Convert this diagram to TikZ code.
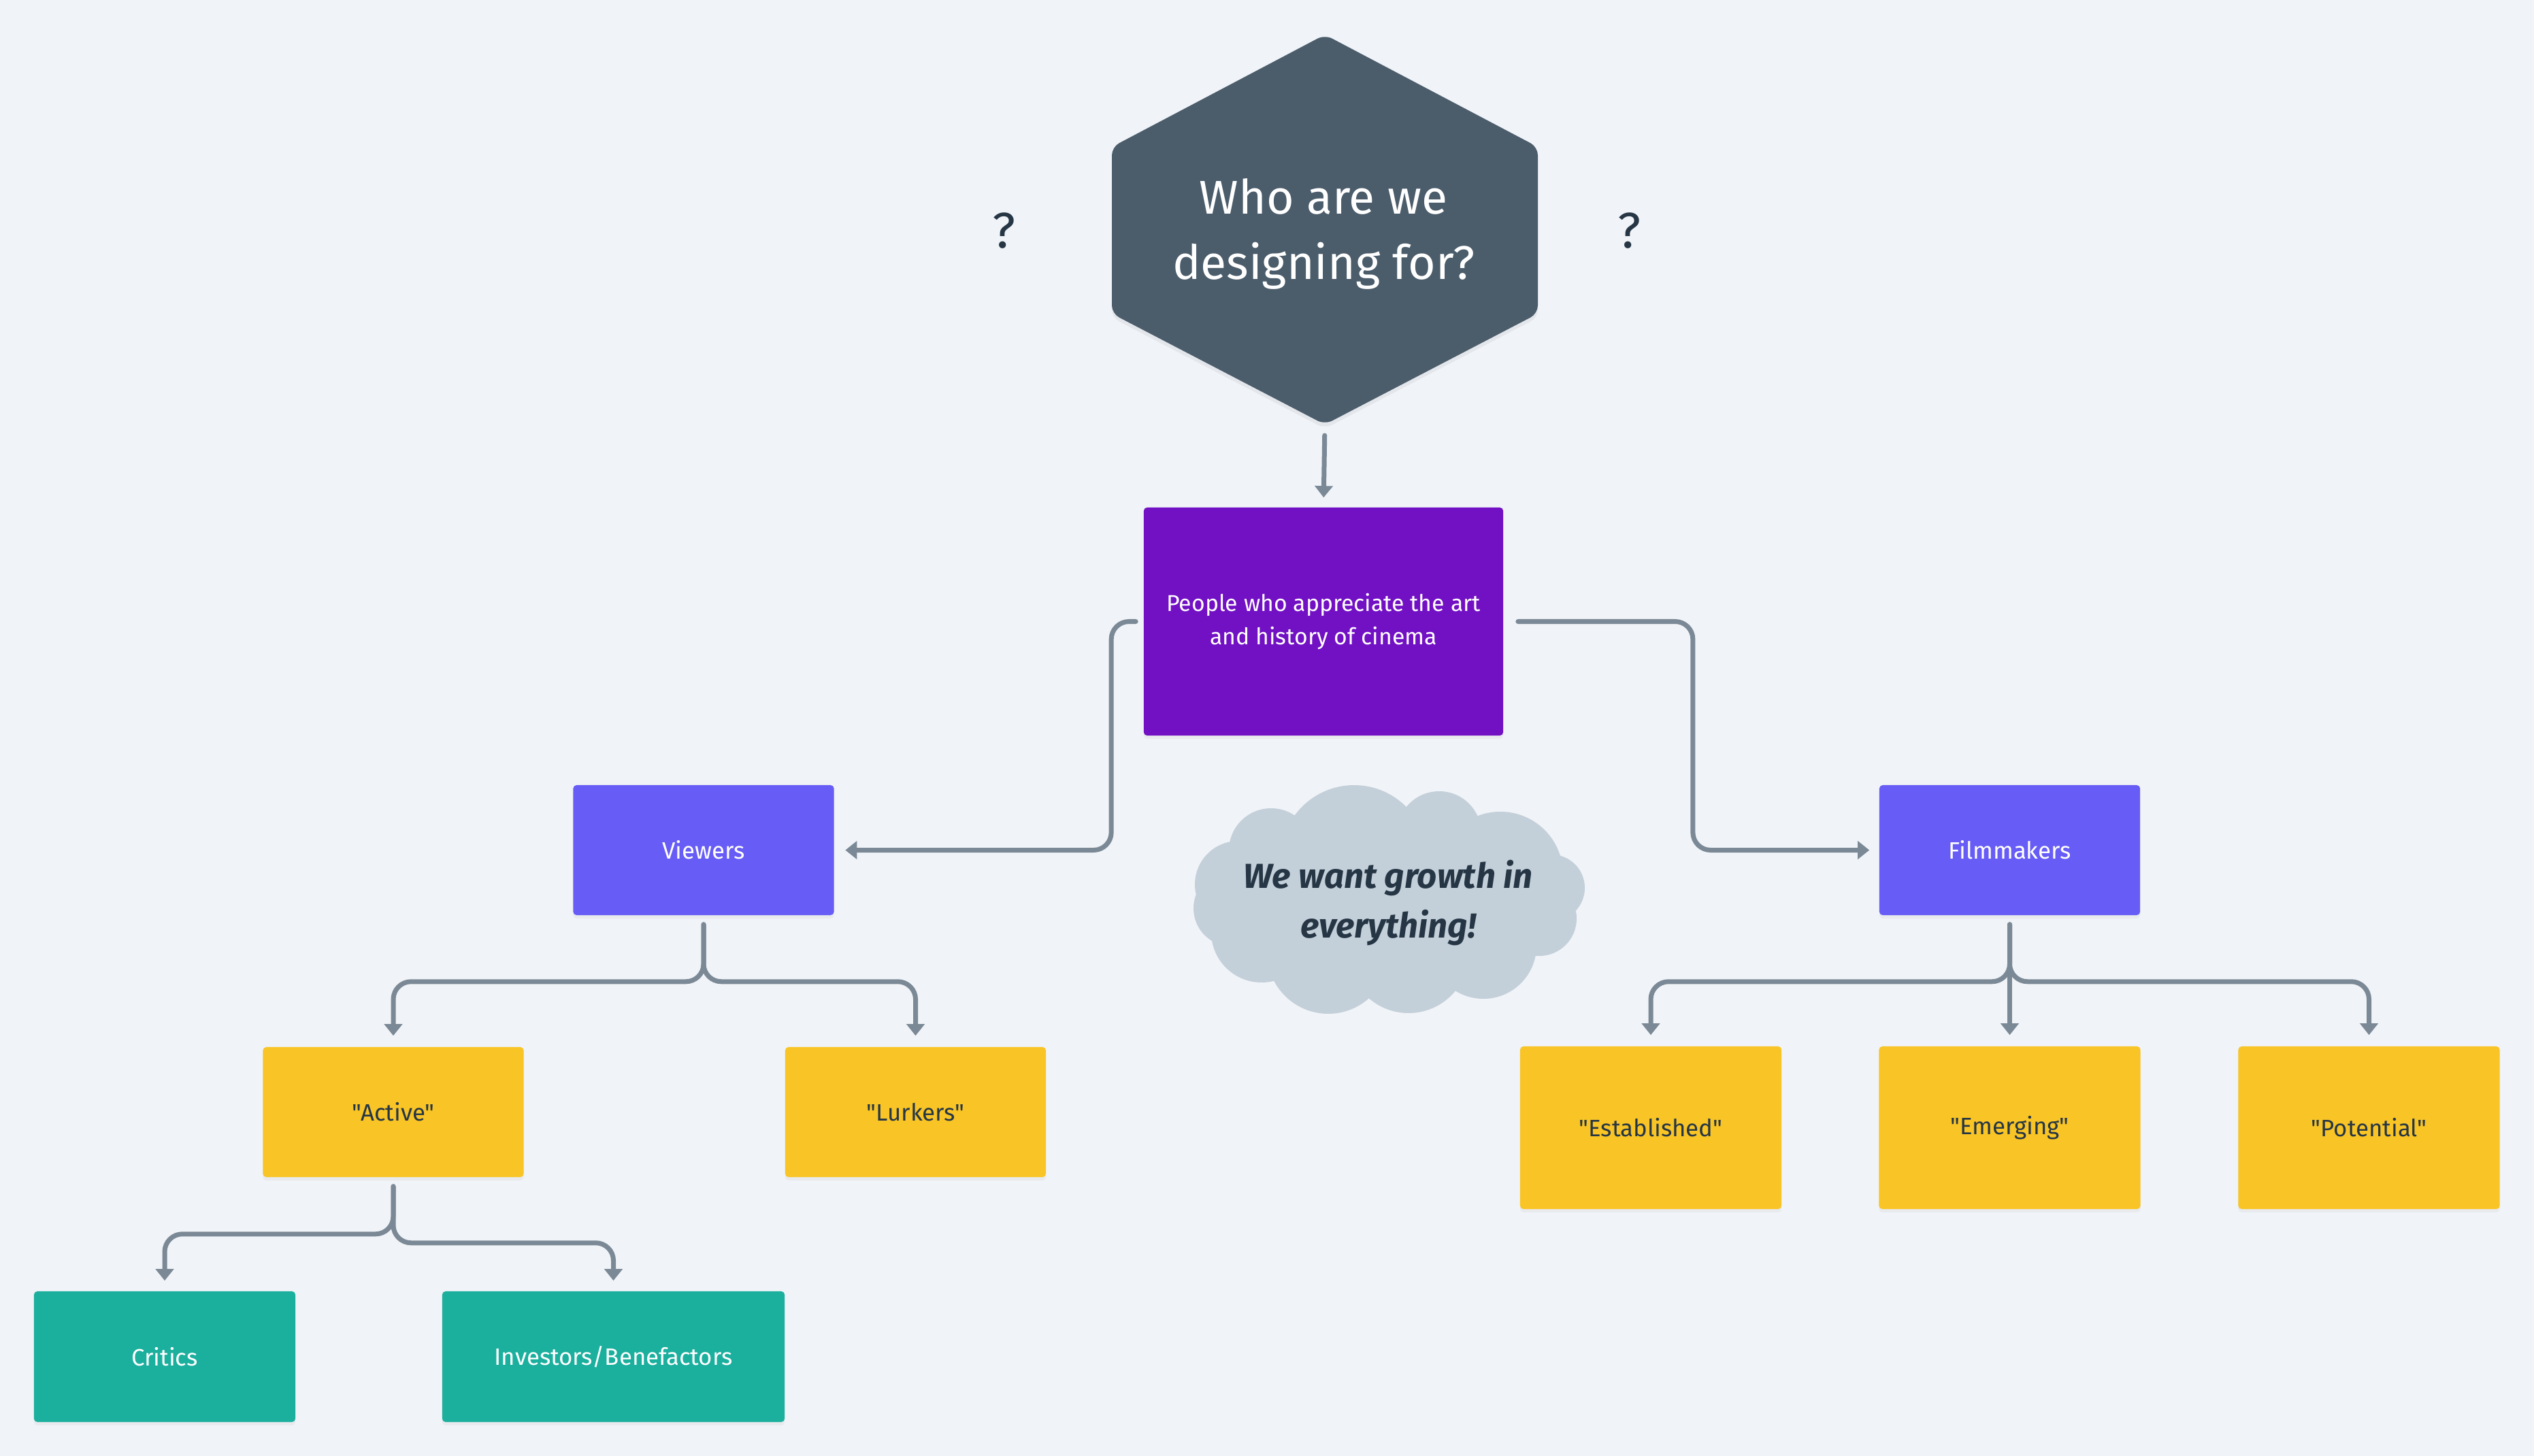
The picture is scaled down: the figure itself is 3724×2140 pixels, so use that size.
\documentclass[tikz,border=0pt]{standalone}
\usepackage{fontspec}
\setmainfont{Fira Sans}[Ligatures=TeXOff]
\usetikzlibrary{arrows.meta,calc,shadows}
\definecolor{bgc}{HTML}{F0F3F7}
\definecolor{hexc}{HTML}{4B5C6B}
\definecolor{purplec}{HTML}{7210C4}
\definecolor{violetc}{HTML}{675CF5}
\definecolor{yellowc}{HTML}{F8C426}
\definecolor{tealc}{HTML}{1BAF9E}
\definecolor{cloudc}{HTML}{C3CFD9}
\definecolor{connc}{HTML}{7B8996}
\definecolor{darkc}{HTML}{263645}
\begin{document}
\begin{tikzpicture}[x=0.01cm,y=-0.01cm,
  box/.style={rectangle, rounded corners=0.05cm, inner sep=0pt, align=center,
    drop shadow={opacity=0.07, shadow xshift=0pt, shadow yshift=-0.05cm}},
  small/.style={minimum width=3.83cm, minimum height=1.91cm},
  tall/.style={minimum width=3.84cm, minimum height=2.39cm},
  lbl/.style={font=\fontsize{9.9}{13.7}\selectfont},
  conn/.style={draw=connc, line width=0.07cm, line cap=round, rounded corners=0.26cm,
    -{Triangle[length=0.17cm,width=0.26cm]}}
]
\fill[bgc] (0,0) rectangle (3724,2140);
\useasboundingbox (0,0) rectangle (3724,2140);

% hexagon
\fill[black, opacity=0.05, rounded corners=0.12cm, shift={(0,6)}] (1947,51) -- (2260,216) -- (2260,461) -- (1947,624) -- (1634,461) -- (1634,216) -- cycle;
\fill[hexc, rounded corners=0.12cm] (1947,51) -- (2260,216) -- (2260,461) -- (1947,624) -- (1634,461) -- (1634,216) -- cycle;
\node[text=white, align=center, font=\fontsize{19.8}{27.3}\selectfont] (hex) at (1945,344) {Who are we\\designing for?};
\coordinate (hexbot) at (1947,624);

\node[text=darkc, font=\fontsize{21}{25}\selectfont] (q1) at (1475,339) {?};
\node[text=darkc, font=\fontsize{21}{25}\selectfont] (q2) at (2394,339) {?};

% cloud
\fill[cloudc]
  (1990,1262) circle[radius=108]
  (1868,1250) circle[radius=62]
  (2115,1225) circle[radius=62]
  (2205,1285) circle[radius=92]
  (2280,1305) circle[radius=49]
  (2262,1350) circle[radius=55]
  (2180,1390) circle[radius=78]
  (2070,1400) circle[radius=89]
  (1952,1400) circle[radius=90]
  (1854,1370) circle[radius=74]
  (1810,1335) circle[radius=56]
  (1820,1300) circle[radius=64]
  (2040,1322) ellipse[x radius=240, y radius=130];
\node[text=darkc, align=center, font=\bfseries\itshape\fontsize{14.5}{21}\selectfont] (cloud) at (2040,1327) {We want growth in\\everything!};

% boxes
\node[box, fill=purplec, minimum width=5.28cm, minimum height=3.35cm, text=white, font=\fontsize{9.6}{13.7}\selectfont] (purple) at (1945,913.5) {People who appreciate the art\\and history of cinema};
\node[box, small, fill=violetc, text=white, lbl] (viewers) at (1034,1249.5) {Viewers};
\node[box, small, fill=violetc, text=white, lbl] (film) at (2953.5,1249.5) {Filmmakers};
\node[box, small, fill=yellowc, text=darkc, lbl] (active) at (578,1634.5) {"Active"};
\node[box, small, fill=yellowc, text=darkc, lbl] (lurkers) at (1345.5,1634.5) {"Lurkers"};
\node[box, tall, fill=yellowc, text=darkc, lbl] (estab) at (2426,1657.5) {"Established"};
\node[box, tall, fill=yellowc, text=darkc, lbl] (emerg) at (2953.5,1657.5) {"Emerging"};
\node[box, tall, fill=yellowc, text=darkc, lbl] (potent) at (3481.5,1657.5) {"Potential"};
\node[box, fill=tealc, minimum width=3.84cm, minimum height=1.92cm, text=white, lbl] (critics) at (242,1994) {Critics};
\node[box, fill=tealc, minimum width=5.03cm, minimum height=1.92cm, text=white, lbl] (invest) at (901.5,1994) {Investors/Benefactors};

% connectors
\draw[conn, shorten <=0.16cm, shorten >=0.14cm] (hexbot) -- (purple.north);
\draw[conn, shorten <=0.11cm, shorten >=0.16cm] (purple.west) -- ++(-47,0) |- (viewers.east);
\draw[conn, shorten <=0.21cm, shorten >=0.14cm] (purple.east) -- ++(278,0) |- (film.west);
\draw[conn, shorten <=0.13cm, shorten >=0.16cm] (viewers.south) -- ++(0,97) -| (active.north);
\draw[conn, shorten <=0.13cm, shorten >=0.16cm] (viewers.south) -- ++(0,97) -| (lurkers.north);
\draw[conn, shorten <=0.13cm, shorten >=0.15cm] (active.south) -- ++(0,83) -| (critics.north);
\draw[conn, shorten <=0.13cm, shorten >=0.15cm] (active.south) -- ++(0,96) -| (invest.north);
\draw[conn, shorten <=0.13cm, shorten >=0.16cm] (film.south) -- ++(0,97) -| (estab.north);
\draw[conn, shorten <=0.13cm, shorten >=0.16cm] (film.south) -- (emerg.north);
\draw[conn, shorten <=0.13cm, shorten >=0.16cm] (film.south) -- ++(0,97) -| (potent.north);
\end{tikzpicture}
\end{document}
